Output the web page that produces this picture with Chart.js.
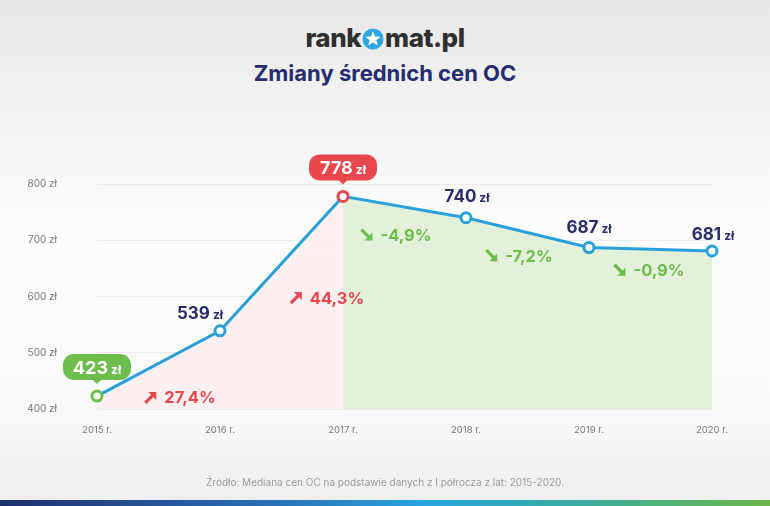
<!DOCTYPE html>
<html>
<head>
<meta charset="utf-8">
<script src="https://cdn.jsdelivr.net/npm/chart.js@4/dist/chart.umd.min.js"></script>
<style>
  html, body { margin: 0; padding: 0; }
  body {
    width: 770px; height: 506px; overflow: hidden; position: relative;
    background: linear-gradient(to bottom, #e7e7e7 0%, #f5f5f5 25%, #fcfcfc 45%, #fafafa 80%, #eeeeee 100%);
    font-family: Inter, "Open Sans", sans-serif;
  }
  #logo {
    position: absolute; top: 22px; left: 0; width: 770px; text-align: center;
    font-size: 26px; font-weight: 800; color: #2f2f2f; letter-spacing: -0.5px;
  }
  #logo svg { vertical-align: -3px; margin: 0 1px; }
  #title {
    position: absolute; top: 60px; left: 0; width: 770px; text-align: center;
    font-size: 22px; font-weight: 700; color: #262c6e;
  }
  #source {
    position: absolute; top: 476px; left: 0; width: 770px; text-align: center;
    font-size: 10px; color: #9a9a9a;
  }
  #bar {
    position: absolute; left: 0; top: 500px; width: 770px; height: 6px;
    background: linear-gradient(to right, #1f2f6e 0%, #2a6fb4 35%, #29a4df 55%, #39ad9f 75%, #6db64a 100%);
  }
  #wrap { position: absolute; left: 0; top: 0; width: 770px; height: 506px; }
</style>
</head>
<body>
<div id="logo">rank<svg width="22" height="22" viewBox="0 0 22 22"><circle cx="11" cy="11" r="10.5" fill="#2ea6e0"/><path d="M11 3.2 L13.1 8.4 L18.6 8.7 L14.3 12.2 L15.8 17.6 L11 14.5 L6.2 17.6 L7.7 12.2 L3.4 8.7 L8.9 8.4 Z" fill="#fff"/></svg>mat.pl</div>
<div id="title">Zmiany średnich cen OC</div>
<div id="wrap"><canvas id="chart"></canvas></div>
<div id="source">Źródło: Mediana cen OC na podstawie danych z I półrocza z lat: 2015-2020.</div>
<div id="bar"></div>
<script>
// chart data
const years = ['2015 r.', '2016 r.', '2017 r.', '2018 r.', '2019 r.', '2020 r.'];
const prices = [423, 539, 778, 740, 687, 681];
const changes = ['27,4%', '44,3%', '-4,9%', '-7,2%', '-0,9%'];
const yTicks = [400, 500, 600, 700, 800];

const BLUE = '#29a0dc';
const RED = '#e8474c';
const GREEN = '#6cbd4c';
const NAVY = '#272d6b';
const FONT = 'Inter, sans-serif';

// fill areas: rising part pink, falling part green
const risePart = prices.map((v, i) => (i <= 2 ? v : null));
const fallPart = prices.map((v, i) => (i >= 2 ? v : null));

const pointColors = prices.map((v, i) => i == 0 ? GREEN : (i == 2 ? RED : BLUE));

// label offsets for the % labels (relative to segment middle)
const pctOffsets = [[22, 34], [46, 34], [-8, 28], [-8, 23], [-1, 21]];
// offsets for the plain value labels
const valOffsets = [null, [-20, -18], null, [1, -22], [0, -21], [1, -17]];

function drawArrow(ctx, x, y, up, color) {
    const s = 11;
    ctx.save();
    ctx.strokeStyle = color;
    ctx.fillStyle = color;
    ctx.lineWidth = 3.2;
    ctx.beginPath();
    if (up) {
        ctx.moveTo(x, y + s / 2);
        ctx.lineTo(x + s - 3, y - s / 2 + 3);
        ctx.stroke();
        ctx.beginPath();
        ctx.moveTo(x + s, y - s / 2);
        ctx.lineTo(x + s - 8, y - s / 2);
        ctx.lineTo(x + s, y - s / 2 + 8);
    } else {
        ctx.moveTo(x, y - s / 2);
        ctx.lineTo(x + s - 3, y + s / 2 - 3);
        ctx.stroke();
        ctx.beginPath();
        ctx.moveTo(x + s, y + s / 2);
        ctx.lineTo(x + s - 8, y + s / 2);
        ctx.lineTo(x + s, y + s / 2 - 8);
    }
    ctx.closePath();
    ctx.fill();
    ctx.restore();
}

function priceText(ctx, cx, cy, value, color, big, small) {
    const a = String(value);
    const b = 'zł';
    ctx.font = `bold ${big}px ${FONT}`;
    const wa = ctx.measureText(a).width;
    ctx.font = `bold ${small}px ${FONT}`;
    const wb = ctx.measureText(b).width;
    const gap = 3;
    const w = wa + gap + wb;
    let x = cx - w / 2;
    ctx.fillStyle = color;
    ctx.textBaseline = 'alphabetic';
    ctx.textAlign = 'left';
    ctx.font = `bold ${big}px ${FONT}`;
    ctx.fillText(a, x, cy + big * 0.36);
    ctx.font = `bold ${small}px ${FONT}`;
    ctx.fillText(b, x + wa + gap, cy + big * 0.36);
    return w;
}

function bubble(ctx, px, py, value, color) {
    ctx.save();
    const w = 68, h = 26, r = 11;
    const bottom = py - 16;
    const top = bottom - h;
    const left = px - w / 2;
    ctx.fillStyle = color;
    ctx.beginPath();
    ctx.roundRect(left, top, w, h, r);
    ctx.fill();
    ctx.beginPath();
    ctx.moveTo(px - 5, bottom - 1);
    ctx.lineTo(px + 5, bottom - 1);
    ctx.lineTo(px, bottom + 4);
    ctx.closePath();
    ctx.fill();
    priceText(ctx, px, top + h / 2, value, '#ffffff', 18, 12);
    ctx.restore();
}

const labelsPlugin = {
    id: 'labels',
    afterDatasetsDraw(chart) {
        const ctx = chart.ctx;
        const pts = chart.getDatasetMeta(0).data;
        // value labels
        prices.forEach((v, i) => {
            const p = pts[i];
            if (i == 0) {
                bubble(ctx, p.x, p.y, v, GREEN);
            } else if (i == 2) {
                bubble(ctx, p.x, p.y, v, RED);
            } else {
                const o = valOffsets[i];
                ctx.save();
                priceText(ctx, p.x + o[0], p.y + o[1], v, NAVY, 17, 12);
                ctx.restore();
            }
        });
        // % change labels
        changes.forEach((txt, i) => {
            const a = pts[i], b = pts[i + 1];
            const up = prices[i + 1] > prices[i];
            const color = up ? RED : GREEN;
            const cx = (a.x + b.x) / 2 + pctOffsets[i][0];
            const cy = (a.y + b.y) / 2 + pctOffsets[i][1];
            ctx.save();
            ctx.font = `bold 16.5px ${FONT}`;
            const tw = ctx.measureText(txt).width;
            const total = 11 + 8 + tw;
            const x0 = cx - total / 2;
            drawArrow(ctx, x0, cy, up, color);
            ctx.fillStyle = color;
            ctx.textAlign = 'left';
            ctx.textBaseline = 'middle';
            ctx.fillText(txt, x0 + 19, cy + 1);
            ctx.restore();
        });
    }
};

const ctx = document.getElementById('chart');

new Chart(ctx, {
    type: 'line',
    data: {
        labels: years,
        datasets: [{
            data: prices,
            order: 0,
            borderColor: BLUE,
            borderWidth: 3,
            fill: false,
            tension: 0,
            pointRadius: 5,
            pointBorderWidth: 3,
            pointBackgroundColor: '#ffffff',
            pointBorderColor: pointColors,
        }, {
            data: risePart,
            order: 1,
            borderWidth: 0,
            pointRadius: 0,
            fill: 'start',
            backgroundColor: 'rgba(253, 236, 236, 0.8)',
        }, {
            data: fallPart,
            order: 2,
            borderWidth: 0,
            pointRadius: 0,
            fill: 'start',
            backgroundColor: 'rgba(225, 240, 216, 0.95)',
        }]
    },
    options: {
        responsive: true,
        maintainAspectRatio: false,
        animation: false,
        layout: { padding: { top: 184, right: 58, left: 0, bottom: 0 } },
        plugins: { legend: { display: false }, tooltip: { enabled: false } },
        scales: {
            x: {
                offset: false,
                grid: { display: false, drawTicks: false },
                border: { display: false },
                ticks: {
                    color: '#777',
                    font: { size: 9.5, family: FONT },
                    padding: 15,
                    maxRotation: 0,
                },
                afterFit(scale) { scale.height = 97; },
            },
            y: {
                min: 400,
                max: 800,
                grid: { color: '#ebebeb', drawTicks: false },
                border: { display: false },
                afterBuildTicks(scale) { scale.ticks = yTicks.map(v => ({ value: v })); },
                ticks: {
                    color: '#777',
                    font: { size: 10, family: FONT },
                    padding: 40,
                    callback: v => v + ' zł',
                },
                afterFit(scale) { scale.width = 97; },
            }
        }
    },
    plugins: [labelsPlugin]
});
</script>
</body>
</html>
